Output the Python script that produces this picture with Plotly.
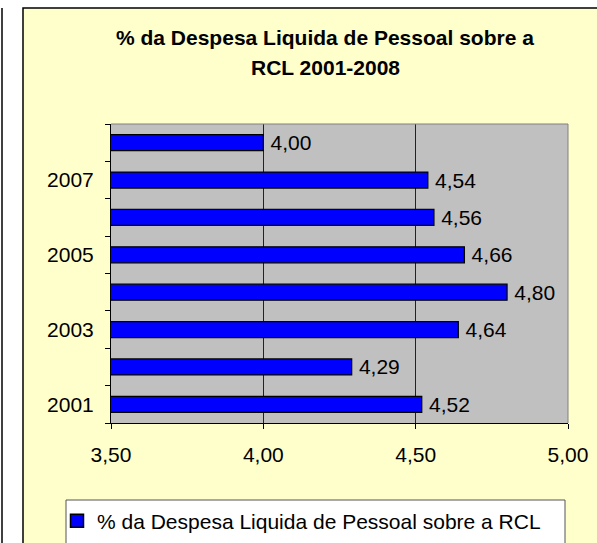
import plotly.graph_objects as go

# ---- data ----
years = [2001, 2002, 2003, 2004, 2005, 2006, 2007, 2008]
values = [4.52, 4.29, 4.64, 4.80, 4.66, 4.56, 4.54, 4.00]
year_ticks = [2001, 2003, 2005, 2007]
x_ticks = [3.50, 4.00, 4.50, 5.00]
series_name = "% da Despesa Liquida de Pessoal sobre a RCL"
title_lines = ["% da Despesa Liquida de Pessoal sobre a", "RCL 2001-2008"]

W, H = 597, 543
L, R, T, B = 111, 568, 124, 423  # plot area in pixels
FONT = "Liberation Sans, Arial, sans-serif"
BLUE = "#0000FF"


def px(x):
    return (x - L) / (R - L)


def py(y):
    return (B - y) / (B - T)


labels = ["\u2009" + f"{v:.2f}".replace(".", ",") for v in values]

fig = go.Figure()
fig.add_trace(go.Bar(
    y=years, x=values, orientation="h", name=series_name, showlegend=False,
    marker=dict(color=BLUE, line=dict(color="black", width=1.2)),
    width=0.43,
    text=labels, textposition="outside", cliponaxis=False, constraintext="none",
    textfont=dict(family=FONT, size=21, color="black"),
    hoverinfo="x+y",
))
# legend entry (larger square key like the original)
fig.add_trace(go.Scatter(
    x=[None], y=[None], mode="markers", name=series_name,
    marker=dict(symbol="square", size=13, color=BLUE, line=dict(color="black", width=1.5)),
    showlegend=True, hoverinfo="skip",
))

shapes = [
    # white strips outside the chart frame
    dict(type="rect", xref="paper", yref="paper", x0=px(-5), x1=px(23), y0=py(-5), y1=py(600),
         fillcolor="white", line=dict(width=0), layer="below"),
    dict(type="rect", xref="paper", yref="paper", x0=px(-5), x1=px(640), y0=py(-5), y1=py(8),
         fillcolor="white", line=dict(width=0), layer="below"),
    # edge of the neighbouring chart
    dict(type="line", xref="paper", yref="paper", x0=px(2), x1=px(2), y0=py(8), y1=py(600),
         line=dict(color="black", width=1.5)),
    # chart frame
    dict(type="rect", xref="paper", yref="paper", x0=px(23), x1=px(640), y0=py(8), y1=py(600),
         line=dict(color="black", width=1.5), fillcolor="rgba(0,0,0,0)"),
    # legend box
    dict(type="rect", xref="paper", yref="paper", x0=px(66), x1=px(565), y0=py(500), y1=py(600),
         fillcolor="white", line=dict(color="#555555", width=1), layer="below"),
    # plot area border top/right (gray)
    dict(type="line", xref="paper", yref="paper", x0=0, x1=1, y0=1, y1=1,
         line=dict(color="#808080", width=1)),
    dict(type="line", xref="paper", yref="paper", x0=1, x1=1, y0=0, y1=1,
         line=dict(color="#808080", width=1)),
]

annotations = [
    dict(text="<b>" + title_lines[0] + "</b>", xref="paper", yref="paper",
         x=px(325), y=py(38), xanchor="center", yanchor="middle", showarrow=False,
         font=dict(family=FONT, size=21, color="black")),
    dict(text="<b>" + title_lines[1] + "</b>", xref="paper", yref="paper",
         x=px(325), y=py(68), xanchor="center", yanchor="middle", showarrow=False,
         font=dict(family=FONT, size=21, color="black")),
]

fig.update_layout(
    width=W, height=H,
    margin=dict(l=L, r=W - R, t=T, b=H - B, pad=0, autoexpand=False),
    paper_bgcolor="#FFFFCC",
    plot_bgcolor="#C0C0C0",
    separators=",.",
    font=dict(family=FONT, size=21, color="black"),
    showlegend=True,
    legend=dict(
        orientation="h", x=px(57), xanchor="left", y=py(521), yanchor="middle",
        bgcolor="rgba(0,0,0,0)", borderwidth=0, itemsizing="trace",
        font=dict(family=FONT, size=21, color="black"),
    ),
    xaxis=dict(
        range=[3.5, 5.0], tickvals=x_ticks, tickformat=".2f",
        showgrid=True, gridcolor="#222222", gridwidth=1,
        showline=True, linecolor="black", linewidth=1,
        ticks="outside", ticklen=5, tickcolor="black",
        ticklabelstandoff=8, zeroline=False, fixedrange=True,
    ),
    yaxis=dict(
        range=[2000.5, 2008.5], tickvals=year_ticks,
        showgrid=False, showline=True, linecolor="black", linewidth=1,
        ticks="", ticklabelstandoff=12, zeroline=False,
        minor=dict(tickvals=[y - 0.5 for y in years] + [years[-1] + 0.5],
                   ticks="outside", ticklen=5, tickcolor="black", showgrid=False),
        fixedrange=True,
    ),
    shapes=shapes,
    annotations=annotations,
)

fig.write_html("out.html", config={"displayModeBar": False},
               post_script="document.body.style.margin='0';")
